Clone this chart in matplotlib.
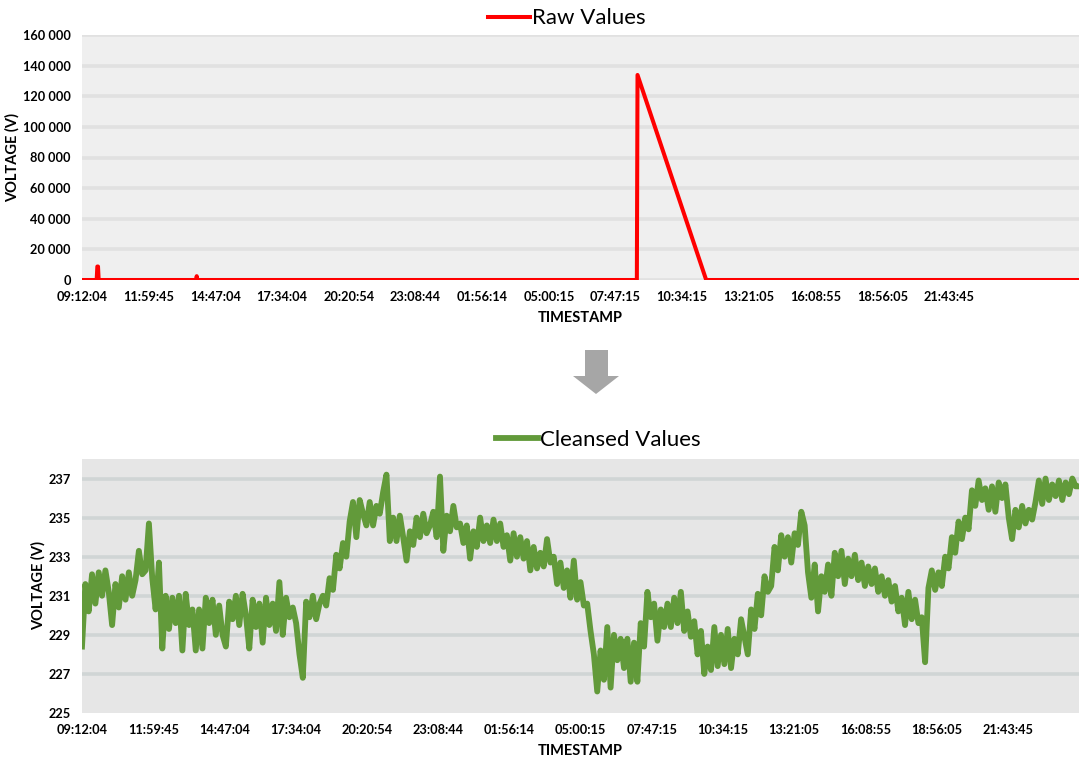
import numpy as np
import matplotlib
matplotlib.use('Agg')
import matplotlib.pyplot as plt
from matplotlib.patches import Polygon

plt.rcParams['font.family'] = ['Lato', 'DejaVu Sans']

# category labels shown on the time axis
time_labels = ['09:12:04', '11:59:45', '14:47:04', '17:34:04', '20:20:54',
               '23:08:44', '01:56:14', '05:00:15', '07:47:15', '10:34:15',
               '13:21:05', '16:08:55', '18:56:05', '21:43:45']

# raw series: sample number -> voltage
raw_index = [0, 22, 23, 24, 25, 171, 172, 173, 832, 833, 936, 1495]
raw_value = [0, 0, 8800, 8800, 0, 0, 2500, 0, 0, 133900, 0, 0]

# cleansed series (one value per sample)
cleansed = [
    228.4, 231.6, 230.2, 232.1, 230.6, 232.2, 231.0, 232.3, 231.2, 229.5,
    231.6, 230.4, 232.0, 230.8, 232.2, 231.0, 231.8, 233.3, 232.1, 232.3,
    234.7, 231.9, 230.3, 232.7, 228.3, 231.0, 229.3, 230.9, 229.6, 231.0,
    228.2, 231.1, 229.5, 230.3, 228.2, 230.3, 228.3, 230.9, 229.6, 230.8,
    229.0, 230.5, 229.0, 228.4, 230.7, 229.8, 231.0, 229.5, 231.1, 230.0,
    228.3, 230.8, 229.4, 230.6, 228.6, 230.9, 229.5, 230.6, 229.2, 231.7,
    229.0, 230.9, 229.9, 230.4, 229.6, 228.0, 226.8, 230.7, 229.9, 231.0,
    229.8, 230.6, 231.0, 230.5, 231.9, 231.3, 233.1, 232.4, 233.7, 233.0,
    234.8, 235.8, 234.0, 235.9, 235.2, 234.6, 235.8, 234.6, 235.6, 235.2,
    236.3, 237.2, 233.8, 235.0, 233.8, 235.1, 234.0, 232.8, 234.3, 233.6,
    235.0, 234.0, 235.2, 234.2, 234.6, 235.3, 234.0, 237.1, 233.3, 235.1,
    234.3, 235.6, 234.5, 234.7, 233.7, 234.6, 232.9, 234.3, 233.5, 235.0,
    233.8, 234.6, 233.7, 234.9, 233.8, 234.7, 233.5, 234.1, 232.8, 234.2,
    233.0, 234.0, 232.9, 233.8, 232.3, 233.5, 232.4, 233.2, 232.5, 233.9,
    232.7, 233.0, 231.6, 232.7, 231.4, 232.3, 230.9, 232.8, 230.8, 231.7,
    230.5, 230.6, 229.2, 228.0, 226.1, 228.2, 226.7, 229.4, 226.3, 229.0,
    227.7, 228.8, 227.3, 228.8, 226.6, 228.6, 226.6, 229.6, 228.4, 231.2,
    229.9, 230.6, 228.7, 230.3, 229.4, 230.6, 229.4, 230.9, 229.6, 231.2,
    229.2, 230.2, 228.9, 229.7, 228.0, 229.2, 227.0, 228.4, 227.2, 229.4,
    227.4, 229.0, 227.5, 229.3, 227.3, 228.8, 228.0, 229.8, 228.9, 228.0,
    230.3, 229.3, 231.1, 230.0, 232.0, 231.2, 231.5, 233.5, 232.3, 234.1,
    233.0, 234.0, 232.7, 234.2, 233.6, 235.3, 234.6, 232.2, 230.9, 232.6,
    230.2, 232.0, 231.2, 232.6, 231.0, 233.2, 232.0, 233.3, 231.6, 232.9,
    232.0, 233.1, 231.8, 232.7, 231.5, 232.5, 231.6, 232.4, 231.2, 232.0,
    231.0, 231.8, 230.7, 231.5, 230.2, 230.9, 229.5, 231.2, 229.8, 230.8,
    229.6, 229.9, 227.6, 231.4, 232.3, 231.3, 232.2, 231.5, 233.0, 232.4,
    234.0, 233.2, 234.8, 233.9, 235.0, 234.4, 236.4, 235.6, 236.9, 235.9,
    236.5, 235.4, 236.6, 235.3, 236.8, 236.0, 236.7, 235.0, 233.9, 235.4,
    234.5, 235.6, 234.7, 235.4, 234.9, 235.8, 236.9, 235.7, 237.0, 235.9,
    236.7, 236.1, 236.9, 235.9, 236.8, 236.2, 237.0, 236.6, 236.6,
]

raw_ticks = np.arange(0, 160001, 20000)
clean_ticks = np.arange(225, 238, 2)

W, H = 1079, 760
fig = plt.figure(figsize=(W / 100, H / 100), dpi=100)


def style_axes(ax, bg, gridcolor):
    ax.set_facecolor(bg)
    for s in ax.spines.values():
        s.set_visible(False)
    ax.tick_params(length=0, pad=8)
    ax.yaxis.grid(True, color=gridcolor, lw=2.6)
    ax.set_axisbelow(True)
    for lab in ax.get_xticklabels() + ax.get_yticklabels():
        lab.set_fontweight('bold')
        lab.set_fontsize(9.2)
    ax.set_xlabel('TIMESTAMP', fontsize=10.5, fontweight='bold', labelpad=6)
    ax.set_ylabel('VOLTAGE (V)', fontsize=10.5, fontweight='bold', labelpad=2)


# --- top: raw values ---
ax1 = fig.add_axes([82 / W, 1 - 280 / H, 997 / W, 245 / H])
ax1.plot(raw_index, raw_value, color='#ff0000', lw=2.9, label='Raw Values',
         solid_joinstyle='round')
ax1.set_xlim(0, 1495)
ax1.set_ylim(0, 160000)
ax1.set_yticks(raw_ticks)
ax1.set_yticklabels([f'{v:,}'.replace(',', ' ') for v in raw_ticks])
ax1.set_xticks(np.arange(len(time_labels)) * 100)
ax1.set_xticklabels(time_labels)
style_axes(ax1, '#efefef', '#e1e1e1')
ax1.legend(loc='center', bbox_to_anchor=(0.486, 1.068), frameon=False,
           fontsize=16, handlelength=1.9, handletextpad=0.1,
           borderaxespad=0)

# --- bottom: cleansed values ---
ax2 = fig.add_axes([82 / W, 1 - 713 / H, 997 / W, 254 / H])
x = np.arange(len(cleansed))
ax2.plot(x, cleansed, color='#629a3a', lw=4.2, label='Cleansed Values',
         solid_joinstyle='round')
ax2.set_xlim(0, len(cleansed) - 1)
ax2.set_ylim(225, 238)
ax2.set_yticks(clean_ticks)
ax2.set_xticks(np.arange(len(time_labels)) * (len(cleansed) - 1) / 14)
ax2.set_xticklabels(time_labels)
style_axes(ax2, '#e6e6e6', '#d0d5d5')
ax2.get_ygridlines()[0].set_visible(False)
ax2.legend(loc='center', bbox_to_anchor=(0.518, 1.075), frameon=False,
           fontsize=16, handlelength=1.9, handletextpad=0.1,
           borderaxespad=0)

# grey arrow between the two charts
arrow_px = [(585, 350), (608, 350), (608, 376), (619, 376), (596, 394),
            (573, 376), (585, 376)]
fig.patches.append(Polygon([(px / W, 1 - py / H) for px, py in arrow_px],
                           closed=True, transform=fig.transFigure,
                           facecolor='#a6a6a6', edgecolor='none'))

fig.savefig('out.png', dpi=100)
